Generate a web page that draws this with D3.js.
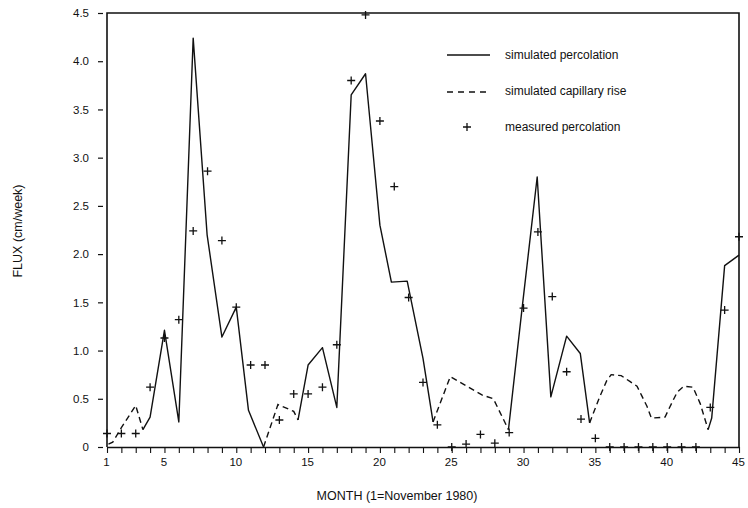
<!DOCTYPE html>
<meta charset="utf-8">
<script src="https://d3js.org/d3.v7.min.js"></script>
<style>
  body { margin: 0; background: #fff; }
  text { font-family: "Liberation Sans", Arial, sans-serif; fill: #111; }
</style>
<svg width="748" height="508"></svg>

<script>
    // simulated percolation, [month, flux]; null breaks the line
    const simPercolation = [
        [3.5, 0.18], [4, 0.31], [5, 1.21], [6, 0.26], [7, 4.24], [7.97, 2.2], [9, 1.14], [10, 1.45], [10.85, 0.38], [11.9, 0.0],
        null,
        [14.3, 0.28], [15, 0.85], [16, 1.03], [17, 0.41], [18, 3.65], [19, 3.87], [20, 2.30], [20.8, 1.71], [21.9, 1.72], [23, 0.92], [23.7, 0.26],
        null,
        [28.95, 0.18], [29.9, 1.44], [30.95, 2.8], [31.9, 0.52], [33, 1.15], [33.95, 0.97], [34.6, 0.25],
        null,
        [42.85, 0.18], [43.1, 0.3], [44, 1.88], [45, 1.99]
    ];

    // simulated capillary rise
    const simCapillary = [
        [1.1, 0.03], [1.4, 0.05], [2, 0.2], [3, 0.43], [3.5, 0.18],
        null,
        [11.9, 0.0], [12.9, 0.44], [14, 0.37], [14.3, 0.28],
        null,
        [23.7, 0.26], [24.9, 0.73], [27.1, 0.54], [27.9, 0.50], [28.95, 0.18],
        null,
        [34.6, 0.25], [35.3, 0.52], [35.8, 0.69], [36.1, 0.75], [36.8, 0.74], [37.4, 0.68], [37.9, 0.63], [38.2, 0.54],
        [38.6, 0.42], [38.9, 0.30], [39.85, 0.31], [40.3, 0.45], [40.7, 0.57], [41.15, 0.63], [41.8, 0.62], [42.3, 0.45], [42.85, 0.18]
    ];

    // measured percolation, months 1..45
    const measuredMonths = d3.range(1, 46);
    const measuredValues = [0.14, 0.14, 0.14, 0.62, 1.13, 1.32, 2.24, 2.86, 2.14, 1.45,
        0.85, 0.85, 0.28, 0.55, 0.55, 0.62, 1.06, 3.80, 4.48, 3.38,
        2.70, 1.55, 0.67, 0.23, 0.00, 0.03, 0.13, 0.04, 0.15, 1.44,
        2.23, 1.56, 0.78, 0.29, 0.09, 0, 0, 0, 0, 0,
        0, 0, 0.41, 1.42, 2.18];

    const xTickLabels = [1, 5, 10, 15, 20, 25, 30, 35, 40, 45];
    const yTicks = [0, 0.5, 1, 1.5, 2, 2.5, 3, 3.5, 4, 4.5];
    const legendLabels = ["simulated percolation", "simulated capillary rise", "measured percolation"];

    const plotL = 107, plotR = 739, plotT = 13, plotB = 447;

    const svg = d3.select("svg");

    const x = d3.scaleLinear().domain([1, 45]).range([plotL, plotR]);
    const y = d3.scaleLinear().domain([0, 4.5]).range([plotB, plotT]);

    // frame: left, top, right
    svg.append("path")
        .attr("d", `M${plotL},${plotB}V${plotT}H${plotR}V${plotB}`)
        .attr("fill", "none")
        .attr("stroke", "#111")
        .attr("stroke-width", 1.6);

    // x axis
    const xAxis = svg.append("g")
        .attr("transform", `translate(0,${plotB})`)
        .call(d3.axisBottom(x)
            .tickValues(measuredMonths)
            .tickSize(6)
            .tickSizeOuter(0)
            .tickPadding(5)
            .tickFormat(d => xTickLabels.includes(d) ? d : ""));
    xAxis.select(".domain").attr("stroke", "#111").attr("stroke-width", 1.6);
    xAxis.selectAll(".tick line").attr("stroke", "#111").attr("stroke-width", 1.1);
    xAxis.selectAll("text").style("font-size", "11.5px").attr("dx", "-1px");

    // y axis (ticks stand off from the frame)
    const yAxis = svg.append("g")
        .attr("transform", `translate(${plotL - 4},0)`)
        .call(d3.axisLeft(y)
            .tickValues(yTicks)
            .tickSize(5)
            .tickPadding(9)
            .tickFormat(d => d === 0 ? "0" : d3.format(".1f")(d)));
    yAxis.select(".domain").remove();
    yAxis.selectAll(".tick line").attr("stroke", "#111").attr("stroke-width", 1.2);
    yAxis.selectAll("text").style("font-size", "11.5px");

    // axis titles
    svg.append("text")
        .attr("x", 397)
        .attr("y", 500)
        .attr("text-anchor", "middle")
        .style("font-size", "12.5px")
        .text("MONTH (1=November 1980)");

    svg.append("text")
        .attr("transform", "translate(22,231) rotate(-90)")
        .attr("text-anchor", "middle")
        .style("font-size", "12.5px")
        .text("FLUX (cm/week)");

    const line = d3.line()
        .defined(d => d !== null)
        .x(d => x(d[0]))
        .y(d => y(d[1]));

    svg.append("path")
        .datum(simPercolation)
        .attr("d", line)
        .attr("fill", "none")
        .attr("stroke", "#111")
        .attr("stroke-width", 1.4)
        .attr("stroke-linejoin", "round");

    svg.append("path")
        .datum(simCapillary)
        .attr("d", line)
        .attr("fill", "none")
        .attr("stroke", "#111")
        .attr("stroke-width", 1.4)
        .attr("stroke-dasharray", "6,4");

    function cross(g, cx, cy) {
        g.append("path")
            .attr("d", `M${cx - 4},${cy}H${cx + 4}M${cx},${cy - 4}V${cy + 4}`)
            .attr("stroke", "#111")
            .attr("stroke-width", 1.3);
    }

    const marks = svg.append("g");
    measuredMonths.forEach((m, i) => cross(marks, x(m), y(measuredValues[i])));

    // legend
    const legend = svg.append("g");
    legend.append("line")
        .attr("x1", 447).attr("x2", 490).attr("y1", 55).attr("y2", 55)
        .attr("stroke", "#111").attr("stroke-width", 1.3);
    legend.append("line")
        .attr("x1", 447).attr("x2", 487).attr("y1", 92).attr("y2", 92)
        .attr("stroke", "#111").attr("stroke-width", 1.3)
        .attr("stroke-dasharray", "6,5");
    cross(legend, 467, 127);

    legend.selectAll("text.lab")
        .data(legendLabels)
        .enter()
        .append("text")
        .attr("class", "lab")
        .attr("x", 505)
        .attr("y", (d, i) => 59 + i * 36)
        .style("font-size", "12px")
        .text(d => d);
</script>
